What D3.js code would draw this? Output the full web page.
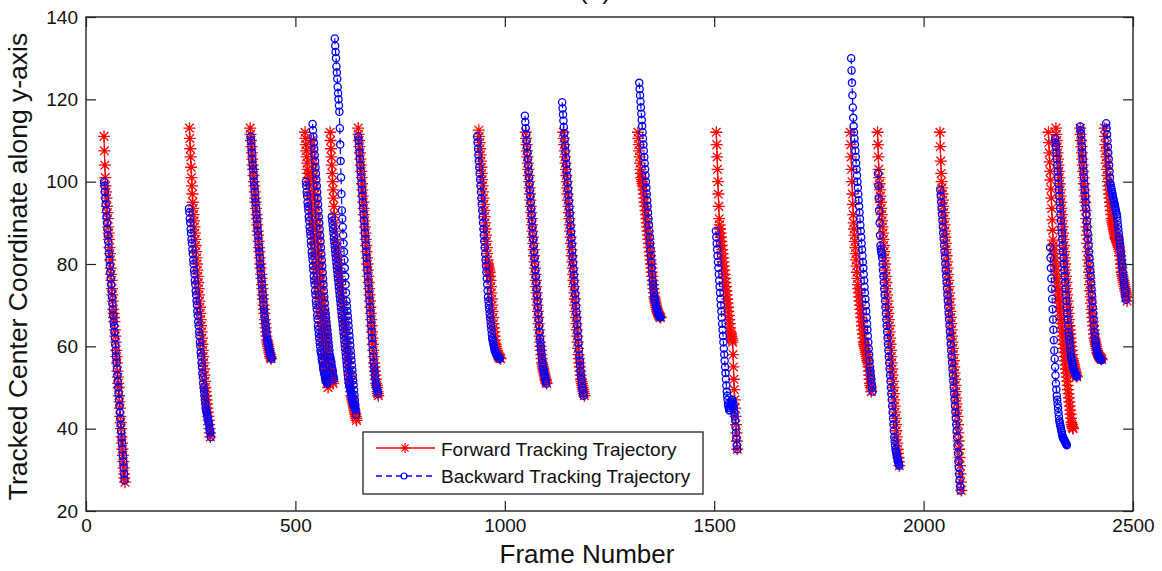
<!DOCTYPE html>
<html>
<head>
<meta charset="utf-8">
<script src="https://cdn.jsdelivr.net/npm/d3@7"></script>
<style>
  html, body { margin: 0; padding: 0; background: #fff; }
  svg { display: block; }
  text { font-family: "Liberation Sans", Arial, sans-serif; fill: #111; }
</style>
</head>
<body>
<svg id="chart" width="1162" height="571"></svg>
<script>
// ---------- data ----------
const xTicks = [0, 500, 1000, 1500, 2000, 2500];
const yTicks = [20, 40, 60, 80, 100, 120, 140];
const seriesNames = ["Forward Tracking Trajectory", "Backward Tracking Trajectory"];

// start frame of each forward track (one value per frame)
const forwardStart = [43, 247, 392, 523, 538, 583, 650, 938, 1050, 1140, 1318, 1505, 1825, 1890, 2039, 2298, 2316, 2374, 2432];
const forwardY = [
  [111,107.5,104,101,99,97.5,96,94,92.5,91,89,87.5,86,84,82.5,81,79,77.5,76,74,72.5,71,69,68,67,66,64,62.5,61,59,57.5,56,54,52.5,51,50,48,46.5,45,43,41.5,40,38,36.5,35,33.5,32,30.5,29,28,27],
  [113,110.5,108,106,103.5,101,99,97,95,93.5,92,90.5,89,87.5,86,84.5,83,81.5,80,78.5,77,75.5,74,72.5,71,69.5,68,66.5,65,63.5,62,60.5,59,57.5,56,54.5,53,51.5,50,49,48,47,46,45,44,43,42,41,40,39,38],
  [113,111.5,110,108.5,107,105.5,104,103,101.5,100,99,97.5,96,95,93.5,92,91,89.5,88,87,85.5,84,83,81.5,80,79,77.5,76.5,75,74,72.5,71.5,70,69,68,66.5,65.5,64.5,63.5,62.5,61.5,61,60.5,60,59.5,59,58.5,58,57.5,57.2,57],
  [112,110.5,109,107.5,106,104.5,103,102,101,100,99,97.5,96.5,95.5,94,93,92,90.5,89.5,88.5,87,86,85,83.5,82.5,81.5,80,79,78,76.5,75.5,74.5,73,72,71,69.5,68.5,67.5,66,65,64,62.5,61.5,60.5,59,58,57,56,55,54,53.5,53,52,51.5,51,50],
  [110,109,107.5,106,104.5,103,101.5,100,98.5,97,95.5,94,92.5,91,89.5,88,86.5,85,83.5,82,80.5,79,77.5,76,74.5,73,72,71,70,69,68,67,66,65,64,63,62,61,60,59,58,57,56.5,56,55.5,55,54,53.5,53,52.5,52,51.5,51],
  [112,110,108,106,104,102,100,98,96,94,92,90,88,86,85,84,83,82,81,80,79,78,77,76,75,74,73,72,71,70,69,68,67,66,65,64,63,62,61,60,59,58,57,56,55,54,53,52,51,50,49,48,47.5,47,46.5,46,45.5,45,44.5,44,43.5,43,42.5,42],
  [113,111.5,110,108.5,107,105.5,104,102.5,101,99.5,98,96.5,95,93.5,92,90.5,89,87.5,86,84.5,83,81.5,80,78.5,77,75.5,74,72.5,71,69.5,68,66.5,65,63.5,62,60.5,59,57.5,56,55,54,53,52,51,50.5,50,49,48.5,48],
  [112.5,111,109.5,108,106.5,105,103.5,102,100.5,99,97.5,96,94.5,93,91.5,90,88.5,87,85.5,84,82.5,81,80,79.5,79,78.5,78,77,76,74.5,73,71.5,70,68.5,67,65.5,64.5,63.5,62.5,61.5,60.5,60,59.5,59,58.5,58,57.8,57.6,57.4,57.3,57.2,57.1,57],
  [112,110.5,109,107.5,106,104.5,103,101.5,100,98.5,97,95.5,94,92.5,91,89.5,88,86.5,85,83.5,82,80.5,79,77.5,76,74.5,73,71.5,70,68.5,67,65.5,64,62.5,61,60,59,58,57,56,55.5,55,54.5,54,53.5,53,52.5,52,51.7,51.3,51],
  [112,110.5,109,107.5,106,104.5,103,101.5,100,98.5,97,95.5,94,92.5,91,89.5,88,86.5,85,83.5,82,80.5,79,77.5,76,74.5,73,71.5,70,68.5,67,65.5,64,62.5,61,59.5,58,57,56,55,54,53,52,51.5,51,50.5,50,49.5,49,48.5,48],
  [112,110.5,109,107.5,106,104.5,103,102,101,100.5,100,99.5,99,98,97,96,95,94,93,92,91,90,89,88,87,86,85,84,83,82,81,80,79,78,77,76,75,74,73,72,71.5,71,70.5,70,69.5,69,68.5,68.2,68,67.8,67.6,67.4,67.2,67.1,67],
  [112,109,106,103,100,97,94,91,89.5,88.5,87.5,86.5,85.5,84.5,83.5,82.5,81.5,80.5,79.5,78.5,77.5,76.5,75.5,74.5,73.5,72.5,71.5,70.5,69.5,68.5,67.5,66.5,65.5,64.5,63.5,63,62.5,62,61.5,61,58,55,52,49.5,47,45,43,41,39,37,35],
  [112,109,106,103,100,97,94.5,92,90,88.5,87,85.5,84,82.5,81,79.5,78,76.5,75,74,73,72,71,70,69,68,67,66,65,64,63,62,61,60.5,60,59.5,59,58.5,58,57.5,57,56.5,56,55,54,53,52,51,50.5,50,49],
  [112,109,106,103,101,99.5,98,96.5,95,93.5,92,90.5,89,87.5,86,84.5,83,81.5,80,78.5,77,75.5,74,72.5,71,69.5,68,66.5,65,63.5,62,60.5,59,57.5,56,54.5,53,51.5,50,48.5,47,45.5,44,42.5,41,39.5,38,36.5,35,34,33,32,31],
  [112,108.5,105,102,100,98.5,97,95.5,94,92.5,91,89.5,88,86.5,85,83.5,82,80.5,79,77.5,76,74.5,73,71.5,70,68.5,67,65.5,64,62.5,61,59.5,58,56.5,55,53.5,52,50.5,49,47.5,46,44.5,43,41,39,37,35,33,31,29,27,25],
  [112,109.5,107,104.8,102.5,100.4,98.2,96,93.5,90.7,88.2,85.8,84.5,83.5,82.5,81.5,80.5,79.5,78.5,77.5,76.5,75.5,74.5,73.5,72.5,71.5,70.5,69.5,68.5,67.5,66.5,65.5,64.5,63.5,62.5,61.5,60.5,59.5,58.5,57.5,56.5,55.5,54.5,53.5,52.5,51.5,50.5,49.5,48.5,47.5,46.5,45.5,44.5,43.5,42.5,41.5,41,40.5,40.2,40],
  [113,111.5,110,108.5,107,105.5,104,102.5,101,99.5,98,96.5,95,93.5,92,90.5,89,87.5,86,84.5,83,81.5,80,78.5,77,75.5,74,72.5,71,69.5,68,66.5,65,64,63,62,61,60,59,58,57,56.5,56,55.5,55,54.5,54,53.5,53,52.8,52.6],
  [113,111.5,110,108.5,107,105.5,104,102.5,101,99.5,98,96.5,95,93,91,89,87,85,83,81,79.5,78,76.5,75,73.5,72,70.5,69,68,67,66,65,64,63,62,61.5,61,60.5,60,59.5,59,58.5,58.2,58,57.8,57.6,57.4,57.3,57.2,57.1,57,56.8],
  [113,111,109,107.5,106,104.5,103,101.5,100,99,98,97,96,95,94,93,92,91,90.5,90,89.5,89,88.5,88,87.5,87,86.5,86.2,86,85.8,85.5,85.2,85,84.5,84,83.5,83,82,81,80,79,78,77.5,77,76.5,76,75.5,75,74.5,74,73.5,73,72.5,72,71]
];

// start frame of each backward track (one value per frame)
const backwardStart = [43, 246, 393, 525, 541, 587, 594, 650, 934, 1048, 1137, 1321, 1504, 1827, 1891, 2040, 2302, 2314, 2374, 2436];
const backwardY = [
  [100,99,97.5,96,94.5,93,91.5,90,88.5,87,85.5,84,82.5,81,79.5,78,76.5,75,73.5,72,70.5,69,67.5,66,65,63.5,62,60.5,59,57.5,56,54.5,53,51.5,50,48.5,47,45.5,44,42.5,41,39.5,38,36.5,35,33.5,32,30.5,29,27.5],
  [93.5,92.5,91,90,88.5,87.5,86,85,83.5,82.5,81,80,78.5,77.5,76,75,73.5,72.5,71,70,68.5,67.5,66,65,63.5,62.5,61,60,58.5,57.5,56,55,53.5,52.5,51,50,49,48,47,46,45,44.5,44,43.5,43,42.5,42,41.5,41,40,39.5,39,38],
  [111,110,108.5,107,105.5,104,103,101.5,100,99,97.5,96,95,93.5,92,91,89.5,88,87,85.5,84,83,81.5,80,79,77.5,76.5,75,74,72.5,71.5,70,69,68,67,66,65,64,63,62,61.5,61,60.5,60,59.5,59,58.5,58,57.7,57.3,57],
  [100,99,97.5,96.5,95,94,93,91.5,90.5,89,88,87,85.5,84.5,83,82,81,79.5,78.5,77,76,75,73.5,72.5,71,70,69,67.5,66.5,65,64,63,62,61,60,59,58.5,58,57,56.5,56,55,54.5,54,53.5,53,52.5,52,51.8,51.5,51.2,51],
  [114,112.5,111,109.5,108,106.5,105,103.5,102,100.5,99,97.5,96,94.5,93,91.5,90,88.5,87,85.5,84,82.5,81,79.5,78,76.5,75,73.5,72,70.5,69,68,67,66,65,64,63,62,61,60,59,58,57.5,57,56.5,56,55,54.5,54,53,52.5,52],
  [91.5,90.5,89.5,88.5,87.5,86.5,85.5,84.5,83.5,82.5,81.5,80.5,79.5,78.5,77.5,76.5,75.5,74.5,73.5,72.5,71.5,70.5,69.5,68.5,67.5,66.5,65.5,64.5,63.5,62.5,61.5,60.5,59.5,58.5,57.5,56.5,55.5,54.5,53.5,52.5,51.5,51,50.5,50,49.5,49,48.5,48,47.5,47,46.5,46,45.8,45.5,45.2,45],
  [134.8,133,131.5,130,128,126.5,125,123,121.5,120,118.5,117,113,109,105,101,97,93,91,89,87,85,83,81,79,77,75,73,71,69.8,68.6,67.4,66.2,65,63.8,62.6,61.4,60.2,59,57.8,56.6,55.4,54.2,53,51.8,50.6,49.4,48.2,47,45.8,44.6,43.4],
  [111,110,108.5,107,105.5,104,102.5,101,99.5,98,96.5,95,93.5,92,90.5,89,87.5,86,84.5,83,81.5,80,78.5,77,75.5,74,72.5,71,69.5,68,66.5,65,63.5,62,60.5,59,57.5,56,55,54,53,52,51,50.5,50,49.5,49,48.5],
  [111,109.5,108,106.5,105,103.5,102,100.5,99,97.5,96,94.5,93,91.5,90,88.5,87,85.5,84,82.5,81,79.5,78,76.5,75,73.5,72,71,70,69,68,67,66,65,64,63,62,61.5,61,60.5,60,59.5,59,58.8,58.6,58.4,58.2,58,57.8,57.6,57.5,57.4,57.2,57.1,57],
  [116,114.5,113,111.5,110,108.5,107,105.5,104,102.5,101,99.5,98,96.5,95,93.5,92,90.5,89,87.5,86,84.5,83,81.5,80,78.5,77,75.5,74,72.5,71,69.5,68,66.5,65,63.5,62,61,60,59,58,57,56,55,54.5,54,53.5,53,52.5,52,51.5,51],
  [119.3,117.8,116.3,114.8,113.3,111.8,110.3,108.8,107.3,105.8,104.3,102.8,101.3,99.8,98.3,96.8,95.3,93.8,92.3,90.8,89.3,87.8,86.3,84.8,83.3,81.8,80.3,78.8,77.3,75.8,74.3,72.8,71.3,69.8,68.3,66.8,65.3,63.8,62.3,60.8,59.3,57.8,56.5,55.3,54,53,52,51,50,49.3,48.6,48],
  [124,122.5,121,119.5,118,116.5,115,113.5,112,110.5,109,107.5,106,104.5,103,101.5,100,98.5,97,95.5,94,92.5,91,89.5,88,86.5,85,83.5,82,80.5,79,77.5,76,75,74,73,72,71.5,71,70.5,70,69.5,69,68.7,68.4,68.1,67.8,67.6,67.4,67.2,67.1,67],
  [88,86.5,85,83.5,82,80.5,79,77.5,76,74.5,73,71.5,70,68.5,67,65.5,64,62.5,61,59.5,58,56.5,55,53.5,52,50.5,49,48,47,46,45.5,45,44.5,44.5,45,45.5,46,46.5,47,47,46.5,46,45.5,45,44,43,42,40.5,39,37.5,36,35],
  [130,127,124,121,118,115.5,113.5,112,110.5,109,107.5,106,104.5,103,101.5,100,98.5,97,95.5,94,92.5,91,89.5,88,86.5,85,83.5,82,80.5,79,77.5,76,74.5,73,71.5,70,68.5,67,65.5,64,62.5,61,59.5,58,56.5,55,54,53,52,51,50,49],
  [102,99,96,93,90,87,84.5,83.5,83,82.5,81.5,80,78.5,77,75.5,74,72.5,71,69.5,68,66.5,65,63.5,62,60.5,59,57.5,56,54.5,53,51.5,50,48.5,47,45.5,44,42.5,41,39.5,38,37,36,35,34.5,34,33.5,33,32.5,32,31.7,31.3,31],
  [98,96.5,95,93.5,92,90.5,89,87.5,86,84.5,83,81.5,80,78.5,77,75.5,74,72.5,71,69.5,68,66.5,65,63.5,62,60.5,59,57.5,56,54.5,53,51.5,50,48.5,47,45.5,44,42.5,41,39.5,38,36,34,32,30.5,29,27.5,26,25],
  [84,81.5,79,76.5,74,71.5,69,66.5,64,61.5,59,57,55,53,51,49.5,48,47,46,45,44,43,42,41.5,41,40.5,40,39.5,39,38.5,38,37.8,37.6,37.4,37.2,37,36.8,36.6,36.4,36.2,36],
  [110.5,109.5,108.5,107,105.5,104,102.5,101,99.5,98,96.5,95,93.5,92,90.5,89,87.5,86,84.5,83,81.5,80,78.5,77,75.5,74,72.5,71,69.5,68,66.5,65,63.5,62.5,61.5,60.5,59.5,58.5,57.5,57,56.5,56,55.5,55,54.5,54,53.8,53.6,53.4,53.2,53,52.8,52.6],
  [113.4,112.5,111.5,110,108.5,107,105.5,104,102.5,101,99.5,98,96.5,95,93.5,92,90.5,89,87.5,86,84.5,83,81.5,80,78.5,77,75.5,74,72.5,71,69.5,68,66.5,65,63.5,62.5,61.5,60.5,60,59.5,59,58.5,58,57.8,57.6,57.4,57.2,57,56.9,56.8,56.7,56.7],
  [114.2,113,111.5,110,108.5,107,105.5,104,102.5,101,99.6,99,98.5,98,97.5,97,96.5,96,95.5,95,94.5,94,93.5,93,92.5,92,91.5,90.5,89.5,88.5,87.5,86.5,85.8,85,84,83,82,81,80,79.3,78,77,76,75,74,73,72,71.3]
];

// ---------- layout ----------
const W = 1162, H = 571;
const plot = { left: 86, right: 1133, top: 17, bottom: 511 };
const svg = d3.select("#chart");

const x = d3.scaleLinear().domain([0, 2500]).range([plot.left, plot.right]);
const y = d3.scaleLinear().domain([20, 140]).range([plot.bottom, plot.top]);

const RED = "#ff0000", BLUE = "#0000ff";
const STAR_R = 6, CIRC_R = 3.6, MARK_W = 1.3;

// title (cut off at top in the reference)
svg.append("text").attr("x", 595).attr("y", -1).attr("text-anchor", "middle")
  .style("font-size", "26px").text("(a)");

// clip
svg.append("clipPath").attr("id", "clip").append("rect")
  .attr("x", plot.left).attr("y", plot.top)
  .attr("width", plot.right - plot.left).attr("height", plot.bottom - plot.top);

const toPoints = (start, vals) => vals.map((v, i) => [start + i, v]);
const line = d3.line().x(d => x(d[0])).y(d => y(d[1]));

const g = svg.append("g").attr("clip-path", "url(#clip)");

function starPath(r) {
  const d = r * 0.72;
  return `M${-r},0L${r},0M0,${-r}L0,${r}M${-d},${-d}L${d},${d}M${-d},${d}L${d},${-d}`;
}

// forward (red, solid, *)
const fwd = g.append("g");
forwardY.forEach((vals, k) => {
  const pts = toPoints(forwardStart[k], vals);
  fwd.append("path").attr("d", line(pts)).attr("fill", "none")
    .attr("stroke", RED).attr("stroke-width", 1.2);
  fwd.selectAll(null).data(pts).enter().append("path")
    .attr("transform", d => `translate(${x(d[0])},${y(d[1])})`)
    .attr("d", starPath(STAR_R)).attr("fill", "none")
    .attr("stroke", RED).attr("stroke-width", MARK_W);
});

// backward (blue, dashed, o)
const bwd = g.append("g");
backwardY.forEach((vals, k) => {
  const pts = toPoints(backwardStart[k], vals);
  bwd.append("path").attr("d", line(pts)).attr("fill", "none")
    .attr("stroke", BLUE).attr("stroke-width", 1.2).attr("stroke-dasharray", "6,4");
  bwd.selectAll(null).data(pts).enter().append("circle")
    .attr("cx", d => x(d[0])).attr("cy", d => y(d[1])).attr("r", CIRC_R)
    .attr("fill", "none").attr("stroke", BLUE).attr("stroke-width", MARK_W);
});

// ---------- axes ----------
const axisColor = "#222";
function styleAxis(sel) {
  sel.select(".domain").remove();
  sel.selectAll(".tick line").attr("stroke", axisColor).attr("stroke-width", 1.2);
  sel.selectAll(".tick text").style("font-size", "19px").attr("fill", "#111");
}
svg.append("g").attr("transform", `translate(0,${plot.bottom})`)
  .call(d3.axisBottom(x).tickValues(xTicks).tickFormat(d3.format("d")).tickSizeInner(-10).tickSizeOuter(0).tickPadding(8))
  .call(styleAxis);
svg.append("g").attr("transform", `translate(0,${plot.top})`)
  .call(d3.axisTop(x).tickValues(xTicks).tickFormat("").tickSizeInner(-10).tickSizeOuter(0))
  .call(styleAxis);
svg.append("g").attr("transform", `translate(${plot.left},0)`)
  .call(d3.axisLeft(y).tickValues(yTicks).tickFormat(d3.format("d")).tickSizeInner(-10).tickSizeOuter(0).tickPadding(8))
  .call(styleAxis);
svg.append("g").attr("transform", `translate(${plot.right},0)`)
  .call(d3.axisRight(y).tickValues(yTicks).tickFormat("").tickSizeInner(-10).tickSizeOuter(0))
  .call(styleAxis);

// frame box
svg.append("rect").attr("x", plot.left).attr("y", plot.top)
  .attr("width", plot.right - plot.left).attr("height", plot.bottom - plot.top)
  .attr("fill", "none").attr("stroke", axisColor).attr("stroke-width", 1.4);

// axis titles
svg.append("text").attr("x", 587).attr("y", 563).attr("text-anchor", "middle")
  .style("font-size", "26px").text("Frame Number");
svg.append("text").attr("transform", "translate(27,266.5) rotate(-90)")
  .attr("text-anchor", "middle").style("font-size", "26.5px")
  .text("Tracked Center Coordinate along y-axis");

// ---------- legend ----------
const lg = svg.append("g");
lg.append("rect").attr("x", 363).attr("y", 432).attr("width", 340).attr("height", 62)
  .attr("fill", "#fff").attr("stroke", axisColor).attr("stroke-width", 1.3);
const rows = [
  { name: seriesNames[0], color: RED, dash: null, yy: 448, ty: 456, mark: "star" },
  { name: seriesNames[1], color: BLUE, dash: "6,4", yy: 476, ty: 483, mark: "circle" }
];
rows.forEach(r => {
  lg.append("line").attr("x1", 376).attr("x2", 435).attr("y1", r.yy).attr("y2", r.yy)
    .attr("stroke", r.color).attr("stroke-width", 1.3).attr("stroke-dasharray", r.dash);
  if (r.mark === "star") {
    lg.append("path").attr("transform", `translate(405,${r.yy})`).attr("d", starPath(5))
      .attr("fill", "none").attr("stroke", r.color).attr("stroke-width", 1.2);
  } else {
    lg.append("circle").attr("cx", 404).attr("cy", r.yy).attr("r", 3)
      .attr("fill", "none").attr("stroke", r.color).attr("stroke-width", 1.2);
  }
  lg.append("text").attr("x", 441).attr("y", r.ty).style("font-size", "19px").text(r.name);
});
</script>
</body>
</html>
